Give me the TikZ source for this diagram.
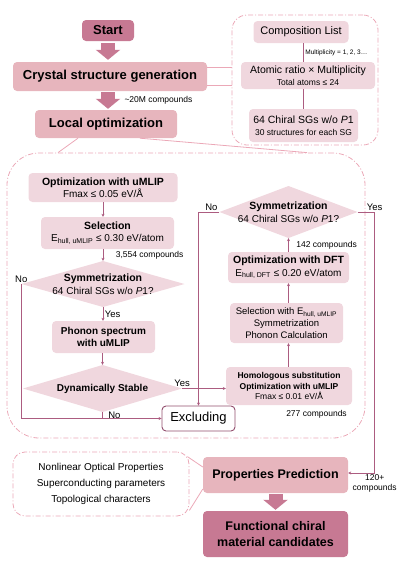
\documentclass[tikz,border=0pt]{standalone}
\usepackage{fontspec}
\setmainfont{Liberation Sans}
\usepackage{tikz}
\usetikzlibrary{arrows.meta}
\definecolor{darkpk}{RGB}{199,121,147}
\definecolor{midpk}{RGB}{231,181,189}
\definecolor{lightpk}{RGB}{240,215,222}
\definecolor{linepk}{RGB}{172,92,128}
\definecolor{dashpk}{RGB}{235,168,183}
\newcommand{\fsz}[2]{\fontsize{#1}{#2}\selectfont}

\begin{document}
\begin{tikzpicture}[x=1pt, y=-1pt,
  >={Stealth[length=3pt,width=3pt]},
  head/.style={rectangle, rounded corners=4pt, fill=darkpk, align=center, inner sep=1pt,
               font=\fsz{13}{15}\bfseries},
  stage/.style={rectangle, rounded corners=4pt, fill=midpk, align=center, inner sep=1pt,
                font=\fsz{13}{15}\bfseries},
  box/.style={rectangle, rounded corners=4pt, fill=lightpk, align=center, inner sep=1pt,
              font=\fsz{10}{12.5}},
  dec/.style={rectangle, inner sep=0pt, align=center, font=\fsz{10}{12.5},
              path picture={\fill[lightpk] (path picture bounding box.north) -- (path picture bounding box.east)
                -- (path picture bounding box.south) -- (path picture bounding box.west) -- cycle;}},
  exclbox/.style={rectangle, rounded corners=4pt, draw=linepk!85!black, line width=0.9pt, fill=white,
                  inner sep=1pt, font=\fsz{13}{15}},
  region/.style={rectangle, draw=dashpk, line width=0.8pt, dash pattern=on 5pt off 2pt on 1pt off 2pt},
  e/.style={->, line width=0.75pt, draw=linepk},
  ln/.style={line width=0.75pt, draw=linepk},
  fat/.style={-{Triangle[length=10pt,width=24pt]}, line width=14pt, draw=darkpk},
  call/.style={line width=0.8pt, draw=dashpk},
  lbl/.style={inner sep=1.5pt, font=\fsz{8.5}{10}},
  yn/.style={inner sep=1.5pt, font=\fsz{9.5}{11}},
]
\useasboundingbox (0,0) rectangle (409,563);

% generation stage
\node[head]  (start)   at (108,30.5) [minimum width=52pt, minimum height=21pt] {Start};
\node[stage] (crystal) at (110,76.5) [minimum width=194pt, minimum height=29pt] {Crystal structure generation};
\node[stage] (local)   at (106,124)  [minimum width=142pt, minimum height=28pt] {Local optimization};
\draw[fat, shorten <=2pt, shorten >=2pt] (start.south) -- (start.south |- crystal.north);
\draw[fat, shorten <=1pt, shorten >=1pt] (crystal.south -| start) -- (local.north -| start)
  node[lbl,midway,right,xshift=8pt]{\textasciitilde 20M compounds};

\node[region, rounded corners=15pt, minimum width=146pt, minimum height=130pt] (compreg) at (305,80) {};
\node[box, font=\fsz{11}{13}] (comp) at (301,32) [minimum width=95pt, minimum height=22pt] {Composition List};
\node[box] (atom) at (308,75.5) [minimum width=134pt, minimum height=27pt]
  {{\fsz{10.5}{12}Atomic ratio × Multiplicity}\\{\fsz{8.5}{10}Total atoms ≤ 24}};
\node[box] (chiral) at (303.5,125.5) [minimum width=109pt, minimum height=33pt]
  {{\fsz{10.5}{13}64 Chiral SGs w/o \textit{P}1}\\{\fsz{8.5}{11}30 structures for each SG}};
\draw[ln] (comp.south -| chiral) -- (atom.north -| chiral)
  node[lbl,midway,right,font=\fsz{6.5}{8}]{Multiplicity = 1, 2, 3…};
\draw[ln] (atom.south -| chiral) -- (chiral.north);
\draw[call] ([yshift=9pt]crystal.east) -- ([yshift=9pt]crystal.east -| compreg.west);
\draw[call] ([yshift=-9pt]crystal.east) -- ([yshift=-9pt]crystal.east -| compreg.west);

% local optimization, zoomed
\node[region, rounded corners=32pt, minimum width=358pt, minimum height=285pt] (bigreg) at (186,295.5) {};
\draw[call] ([xshift=-28pt]local.south) -- ([xshift=-128pt]bigreg.north);
\draw[call] ([xshift=34pt]local.south) -- ([xshift=121pt]bigreg.north);

\node[box] (opt1) at (103,187.5) [minimum width=149pt, minimum height=29pt]
  {{\fsz{10.5}{12.5}\bfseries Optimization with uMLIP}\\Fmax ≤ 0.05 eV/Å};
\node[box] (sel1) at (107.5,233) [minimum width=133pt, minimum height=32pt]
  {{\fsz{10.5}{12.5}\bfseries Selection}\\E\textsubscript{hull, uMLIP} ≤ 0.30 eV/atom};
\node[dec] (sym1) at (103,284) [minimum width=163pt, minimum height=46pt]
  {{\fsz{10.5}{12.5}\bfseries Symmetrization}\\64 Chiral SGs w/o \textit{P}1?};
\node[box, font=\fsz{10}{12.5}\bfseries] (phon) at (103.5,337) [minimum width=103pt, minimum height=32pt]
  {Phonon spectrum\\with uMLIP};
\node[dec, font=\fsz{10}{12.5}\bfseries] (dyn) at (102.5,388.5) [minimum width=159pt, minimum height=47pt]
  {Dynamically Stable};
\node[exclbox] (excl) at (198.5,418.5) [minimum width=73pt, minimum height=25pt] {Excluding};

\draw[e] (opt1) -- (opt1 |- sel1.north);
\draw[e] (sel1.south -| sym1) -- (sym1.north) node[lbl,midway,right,xshift=11pt]{3,554 compounds};
\draw[e] (sym1) -- (sym1 |- phon.north) node[yn,midway,right]{Yes};
\draw[e] (phon.south -| dyn) -- (dyn.north);
\draw[e] (sym1.west) |- (excl.west) node[yn,pos=0,above]{No};
\draw[ln] (dyn.south) -- (dyn.south |- excl.west) node[yn,midway,right,xshift=4pt]{No};

\node[dec] (sym2) at (288.5,212) [minimum width=138pt, minimum height=52pt]
  {{\fsz{10.5}{12.5}\bfseries Symmetrization}\\64 Chiral SGs w/o \textit{P}1?};
\node[box] (dft) at (288.5,267.5) [minimum width=121pt, minimum height=31pt]
  {{\fsz{10.5}{12.5}\bfseries Optimization with DFT}\\E\textsubscript{hull, DFT} ≤ 0.20 eV/atom};
\node[box, font=\fsz{9.5}{12}] (sele) at (286.5,323) [minimum width=113pt, minimum height=40pt]
  {Selection with E\textsubscript{hull, uMLIP}\\Symmetrization\\Phonon Calculation};
\node[box, font=\fsz{8.5}{10.5}] (homo) at (289,386) [minimum width=126pt, minimum height=38pt]
  {{\bfseries Homologous substitution}\\{\bfseries Optimization with uMLIP}\\Fmax ≤ 0.01 eV/Å};
\node[lbl] (n277) at (316.5,414) {277 compounds};

\draw[e] (dyn.east) -- (dyn.east -| homo.west) node[yn,pos=0,above]{Yes};
\draw[e] (homo.north -| dft) -- (sele.south -| dft);
\draw[e] (sele.north -| dft) -- (dft.south);
\draw[e] (dft.north) -- (sym2.south) node[lbl,midway,right,xshift=6pt]{142 compounds};
\draw[e] (sym2.west) -| (excl.north) node[yn,pos=0,above left]{No};

% properties
\node[region, rounded corners=12pt, minimum width=176pt, minimum height=64pt, align=center,
      font=\fsz{10}{16}] (propreg) at (101,484)
  {Nonlinear Optical Properties\\Superconducting parameters\\Topological characters};
\node[stage, font=\fsz{12.5}{15}\bfseries] (props) at (275.5,475) [minimum width=145pt, minimum height=36pt]
  {Properties Prediction};
\node[head, font=\fsz{12.5}{16}\bfseries] (func) at (275.5,534) [minimum width=145pt, minimum height=46pt]
  {Functional chiral\\material candidates};
\draw[fat, shorten <=1pt, shorten >=1pt] (props) -- (func);
\draw[call] ([xshift=-2pt,yshift=-5pt]propreg.north east) -- ([yshift=8pt]props.west);
\draw[call] ([yshift=6pt]propreg.south east) -- ([yshift=-14pt]props.west);
\draw[e] (sym2.east) -- ++(17,0) node[yn,above]{Yes} |- ([yshift=2pt]props.east)
  node[lbl,pos=0.5,below,align=center]{120+\\compounds};
\end{tikzpicture}
\end{document}
